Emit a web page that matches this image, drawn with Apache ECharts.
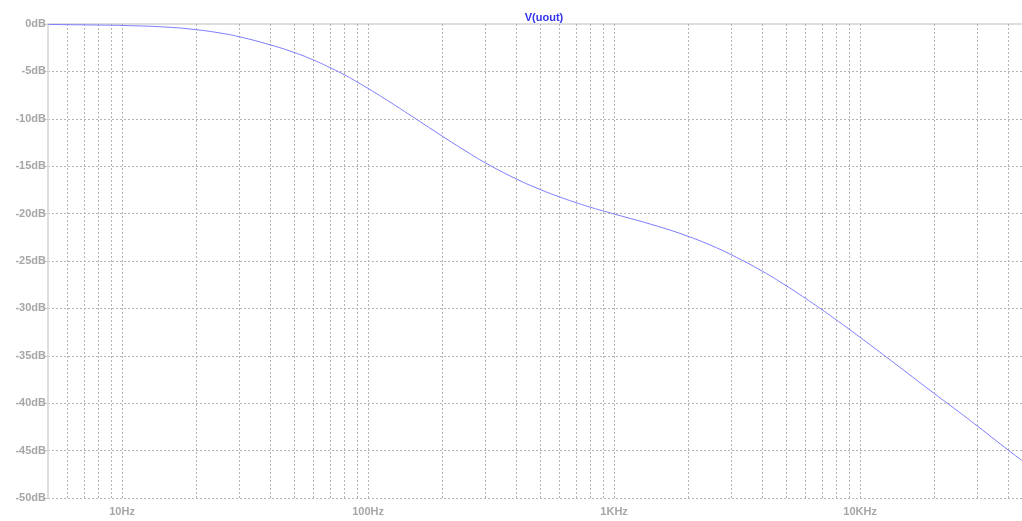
<!DOCTYPE html>
<html>
<head>
<meta charset="utf-8">
<title>V(uout)</title>
<script src="https://cdn.jsdelivr.net/npm/echarts@6/dist/echarts.min.js"></script>
<style>
  html, body { margin: 0; padding: 0; background: #ffffff; }
  #chart { width: 1022px; height: 521px; }
</style>
</head>
<body>
<div id="chart"></div>
<script>
// Frequency response of V(uout): magnitude in dB against frequency in Hz
const freqHz = [5, 6, 7, 8, 9, 10, 15, 20, 25, 30, 40, 50, 60, 70, 80, 90,
  100, 120, 150, 200, 250, 300, 400, 500, 600, 700, 800, 900,
  1000, 1500, 2000, 2500, 3000, 4000, 5000, 6000, 7000, 8000, 9000,
  10000, 12000, 15000, 20000, 25000, 30000, 40000, 45500];
const gainDb = [-0.05, -0.07, -0.09, -0.11, -0.13, -0.15, -0.32, -0.6, -0.95, -1.35, -2.2, -3.0, -3.8, -4.6, -5.35, -6.1,
  -6.8, -8.07, -9.7, -11.82, -13.42, -14.65, -16.34, -17.45, -18.24, -18.84, -19.32, -19.71,
  -20.04, -21.33, -22.4, -23.4, -24.35, -26.07, -27.6, -28.95, -30.14, -31.21, -32.17,
  -33.05, -34.59, -36.5, -38.97, -40.85, -42.42, -44.95, -46.05];

// Axis ranges and tick labels
const freqMin = 5;
const freqMax = 45500;
const decadeTicks = [10, 100, 1000, 10000];
const decadeLabels = ['10Hz', '100Hz', '1KHz', '10KHz'];
const dbMin = -50;
const dbMax = 0;
const dbStep = 5;
const dbUnit = 'dB';

// Log grid: 1..9 of every decade inside the frequency range
const gridFreqs = [];
for (let d = 1; d <= 10000; d *= 10) {
  for (let m = 1; m <= 9; m++) {
    const f = m * d;
    if (f > freqMin && f < freqMax) gridFreqs.push(f);
  }
}

const labelStyle = {
  color: '#a6a6a6',
  fontFamily: 'Liberation Sans, Arial, sans-serif',
  fontSize: 11,
  fontWeight: 'bold'
};
const frameColor = '#dedede';
const gridColor = '#b4b4b4';

const chart = echarts.init(document.getElementById('chart'), null, { renderer: 'canvas' });
chart.setOption({
  animation: false,
  backgroundColor: '#ffffff',
  title: {
    text: 'V(uout)',
    left: 539,
    top: 7,
    textAlign: 'center',
    textStyle: {
      color: '#3434f0',
      fontFamily: 'Liberation Sans, Arial, sans-serif',
      fontSize: 11,
      fontWeight: 'bold'
    }
  },
  grid: { left: 48, top: 24, right: 0, bottom: 23, containLabel: false },
  xAxis: [{
    type: 'log',
    logBase: 10,
    min: freqMin,
    max: freqMax,
    position: 'bottom',
    axisLine: { show: true, lineStyle: { color: frameColor, width: 2 } },
    axisTick: {
      show: true,
      length: 4,
      customValues: gridFreqs,
      lineStyle: { color: gridColor, type: [2, 2], width: 1 }
    },
    axisLabel: Object.assign({
      show: true,
      margin: 8,
      customValues: decadeTicks,
      formatter: function (v) {
        const i = decadeTicks.indexOf(Math.round(v));
        return i >= 0 ? decadeLabels[i] : '';
      }
    }, labelStyle),
    splitLine: { show: true, lineStyle: { color: gridColor, type: [2, 2], width: 1 } },
    minorTick: { show: false },
    minorSplitLine: { show: false }
  }, {
    type: 'log',
    logBase: 10,
    min: freqMin,
    max: freqMax,
    position: 'top',
    axisLine: { show: true, lineStyle: { color: frameColor, width: 2 } },
    axisTick: { show: false },
    axisLabel: { show: false },
    splitLine: { show: false }
  }],
  yAxis: {
    type: 'value',
    min: dbMin,
    max: dbMax,
    interval: dbStep,
    axisLine: { show: true, lineStyle: { color: frameColor, width: 2 } },
    axisTick: { show: true, length: 6, lineStyle: { color: '#cfcfcf', width: 1 } },
    axisLabel: Object.assign({
      margin: 2,
      formatter: function (v) { return v + dbUnit; }
    }, labelStyle),
    splitLine: { show: true, lineStyle: { color: gridColor, type: [2, 2], width: 1 } }
  },
  series: [{
    name: 'V(uout)',
    type: 'line',
    xAxisIndex: 0,
    data: freqHz.map(function (f, i) { return [f, gainDb[i]]; }),
    smooth: 0.5,
    showSymbol: false,
    symbol: 'none',
    lineStyle: { color: '#7c7cff', width: 1 },
    z: 5
  }]
});
</script>
</body>
</html>
